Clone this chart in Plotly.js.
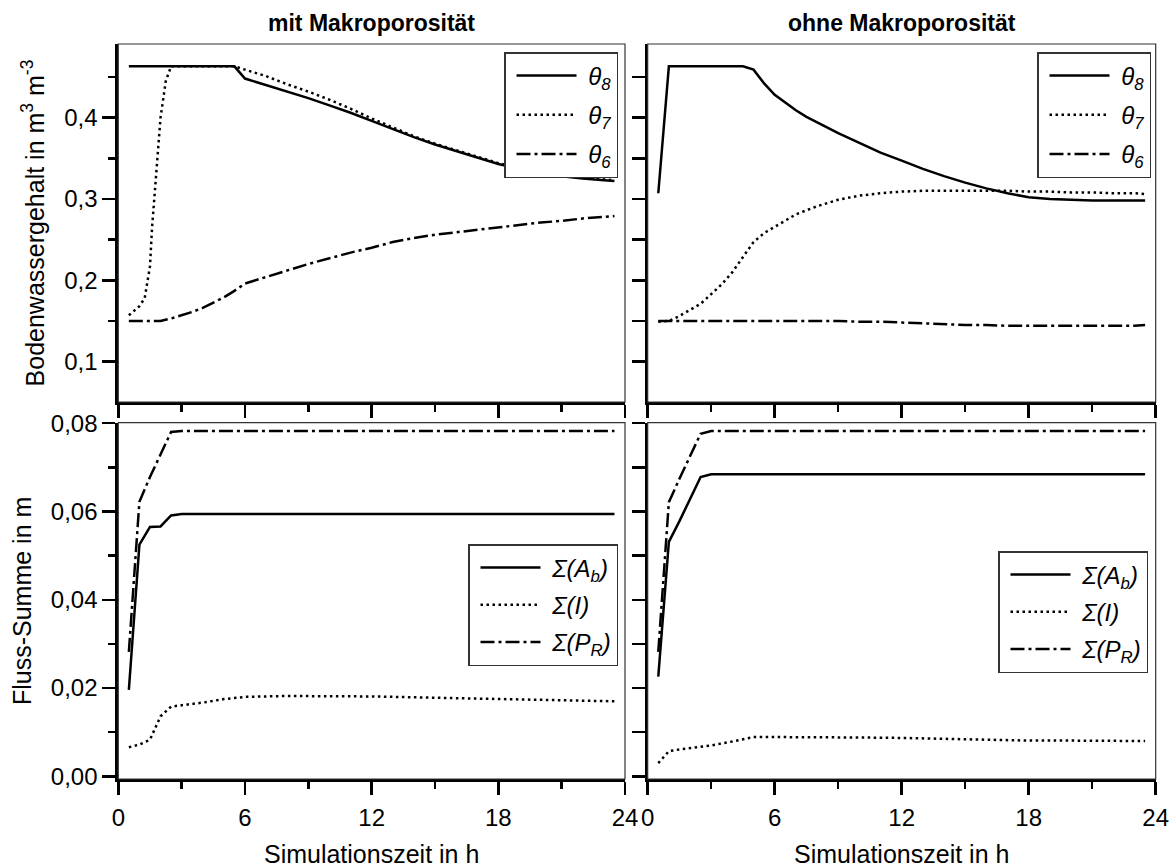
<!DOCTYPE html>
<html>
<head>
<meta charset="utf-8">
<script src="https://cdn.plot.ly/plotly-3.0.1.min.js"></script>
<style>
html,body{margin:0;padding:0;background:#fff;}
#chart{width:1173px;height:868px;}
</style>
</head>
<body>
<div id="chart"></div>
<script>
// ---------- data: mit Makroporosität (top-left) ----------
const timeTheta8Mit = [0.5,1,2,3,4,5,5.5,6,7,8,9,10,11,12,13,14,15,16,17,18,19,20,21,22,23,23.5];
const theta8Mit     = [0.463,0.463,0.463,0.463,0.463,0.463,0.463,0.448,0.440,0.432,0.424,0.415,0.406,0.396,0.386,0.376,0.367,0.359,0.351,0.343,0.337,0.332,0.328,0.325,0.323,0.322];

const timeTheta7Mit = [0.5,1,1.25,1.5,1.6,1.75,2,2.25,2.5,3,4,5,5.5,6,7,8,9,10,11,12,13,14,15,16,17,18,19,20,21,22,23,23.5];
const theta7Mit     = [0.157,0.168,0.178,0.217,0.265,0.320,0.400,0.445,0.463,0.463,0.463,0.463,0.463,0.459,0.451,0.441,0.432,0.422,0.411,0.399,0.388,0.377,0.368,0.360,0.352,0.344,0.338,0.333,0.329,0.326,0.324,0.323];

const timeTheta6Mit = [0.5,1,1.5,2,2.5,3,3.5,4,4.5,5,5.5,6,7,8,9,10,11,12,13,14,15,16,17,18,19,20,21,22,23,23.5];
const theta6Mit     = [0.150,0.150,0.150,0.150,0.153,0.157,0.161,0.166,0.172,0.179,0.187,0.196,0.204,0.212,0.220,0.227,0.234,0.240,0.247,0.252,0.256,0.259,0.262,0.265,0.268,0.271,0.273,0.276,0.278,0.279];

// ---------- data: ohne Makroporosität (top-right) ----------
const timeTheta8Ohne = [0.5,1,2,3,4,4.5,5,5.5,6,6.5,7,7.5,8,9,10,11,12,13,14,15,16,17,18,19,20,21,22,23,23.5];
const theta8Ohne     = [0.307,0.463,0.463,0.463,0.463,0.463,0.459,0.442,0.428,0.418,0.409,0.401,0.394,0.381,0.369,0.357,0.347,0.337,0.328,0.320,0.313,0.307,0.302,0.300,0.299,0.298,0.298,0.298,0.298];

const timeTheta7Ohne = [0.5,1,1.5,2,2.5,3,3.5,4,4.5,5,5.5,6,7,8,9,10,11,12,13,14,15,16,17,18,19,20,21,22,23,23.5];
const theta7Ohne     = [0.149,0.150,0.156,0.163,0.171,0.183,0.195,0.210,0.229,0.247,0.258,0.266,0.281,0.291,0.299,0.304,0.307,0.309,0.310,0.310,0.310,0.310,0.310,0.309,0.309,0.308,0.308,0.307,0.307,0.306];

const timeTheta6Ohne = [0.5,2,4,6,8,9,10,11,12,13,14,15,16,17,18,19,20,21,22,23,23.5];
const theta6Ohne     = [0.150,0.150,0.150,0.150,0.150,0.150,0.149,0.149,0.148,0.147,0.146,0.145,0.145,0.144,0.144,0.144,0.144,0.144,0.144,0.144,0.145];

// ---------- data: Fluss-Summen mit Makroporosität (bottom-left) ----------
const timeAbMit = [0.5,1,1.5,2,2.5,3,6,12,18,23.5];
const sumAbMit  = [0.0196,0.0525,0.0565,0.0566,0.0591,0.0594,0.0594,0.0594,0.0594,0.0594];

const timeIMit = [0.5,1,1.5,2,2.5,3,4,5,6,8,10,12,14,16,18,20,22,23.5];
const sumIMit  = [0.0066,0.0072,0.0083,0.0136,0.0158,0.0161,0.0167,0.0175,0.0180,0.0182,0.0182,0.0181,0.0179,0.0177,0.0175,0.0173,0.0171,0.0170];

const timePMit = [0.5,1,1.5,2,2.5,3,6,12,18,23.5];
const sumPMit  = [0.0282,0.0622,0.0678,0.0731,0.0780,0.0782,0.0782,0.0782,0.0782,0.0782];

// ---------- data: Fluss-Summen ohne Makroporosität (bottom-right) ----------
const timeAbOhne = [0.5,1,1.5,2,2.5,3,6,12,18,23.5];
const sumAbOhne  = [0.0226,0.0531,0.0578,0.0629,0.0678,0.0684,0.0684,0.0684,0.0684,0.0684];

const timeIOhne = [0.5,1,1.5,2,3,4,5,6,8,10,12,14,16,18,20,22,23.5];
const sumIOhne  = [0.0030,0.0057,0.0061,0.0064,0.0070,0.0079,0.0089,0.0089,0.0089,0.0088,0.0087,0.0085,0.0083,0.0081,0.0081,0.0080,0.0080];

const timePOhne = [0.5,1,1.5,2,2.5,3,6,12,18,23.5];
const sumPOhne  = [0.0282,0.0621,0.0674,0.0727,0.0776,0.0782,0.0782,0.0782,0.0782,0.0782];

// ---------- labels ----------
const panelTitles = ['mit Makroporosität', 'ohne Makroporosität'];
const thetaNames = ['θ<sub>8</sub>', 'θ<sub>7</sub>', 'θ<sub>6</sub>'];
const fluxNames = ['Σ(A<sub>b</sub>)', 'Σ(I)', 'Σ(P<sub>R</sub>)'];
const yTitleTop = 'Bodenwassergehalt in m<sup>3</sup> m<sup>-3</sup>';
const yTitleBottom = 'Fluss-Summe in m';
const xTitle = 'Simulationszeit in h';

// ---------- styles ----------
const FONT = 'Liberation Sans, Arial, sans-serif';
const solid = {color: '#000', width: 2.5, dash: 'solid'};
const dotted = {color: '#000', width: 2.5, dash: '2.5px,3.5px'};
const dashdot = {color: '#000', width: 2.5, dash: '14px,4px,3px,4px'};
const GAP = '\u00A0';

let groupId = 0;
function tr(x, y, line, name, xa, ya, leg) {
  groupId += 1;
  return {x: x, y: y, type: 'scatter', mode: 'lines', line: line,
          name: GAP + name, xaxis: xa, yaxis: ya, legend: leg,
          legendgroup: 'g' + groupId, hoverinfo: 'skip'};
}

const data = [
  tr(timeTheta8Mit, theta8Mit, solid, thetaNames[0], 'x', 'y', 'legend'),
  tr(timeTheta7Mit, theta7Mit, dotted, thetaNames[1], 'x', 'y', 'legend'),
  tr(timeTheta6Mit, theta6Mit, dashdot, thetaNames[2], 'x', 'y', 'legend'),
  tr(timeTheta8Ohne, theta8Ohne, solid, thetaNames[0], 'x2', 'y2', 'legend2'),
  tr(timeTheta7Ohne, theta7Ohne, dotted, thetaNames[1], 'x2', 'y2', 'legend2'),
  tr(timeTheta6Ohne, theta6Ohne, dashdot, thetaNames[2], 'x2', 'y2', 'legend2'),
  tr(timeAbMit, sumAbMit, solid, fluxNames[0], 'x3', 'y3', 'legend3'),
  tr(timeIMit, sumIMit, dotted, fluxNames[1], 'x3', 'y3', 'legend3'),
  tr(timePMit, sumPMit, dashdot, fluxNames[2], 'x3', 'y3', 'legend3'),
  tr(timeAbOhne, sumAbOhne, solid, fluxNames[0], 'x4', 'y4', 'legend4'),
  tr(timeIOhne, sumIOhne, dotted, fluxNames[1], 'x4', 'y4', 'legend4'),
  tr(timePOhne, sumPOhne, dashdot, fluxNames[2], 'x4', 'y4', 'legend4')
];

const W = 1173, H = 868;
const px = v => v / W;
const py = v => 1 - v / H;

const leftDom = [px(118.3), px(625)];
const rightDom = [px(647.7), px(1155.7)];
const topDom = [py(402), py(44)];
const botDom = [py(779), py(422.7)];

const tickFont = {family: FONT, size: 24, color: '#000'};

function xAx(dom, anchor, labels) {
  const a = {
    domain: dom, anchor: anchor, range: [0, 24], tickmode: 'linear', tick0: 0, dtick: 6,
    ticks: 'outside', ticklen: 13, tickwidth: 2.5, tickcolor: '#000',
    minor: {ticks: 'outside', ticklen: 7, tickwidth: 2.5, tickcolor: '#000', dtick: 3, tick0: 0, showgrid: false},
    showline: true, linewidth: 3, linecolor: '#000', showgrid: false, zeroline: false,
    showticklabels: labels, tickfont: tickFont, fixedrange: true
  };
  if (labels) {
    a.title = {text: xTitle, font: {family: FONT, size: 25, color: '#000'}, standoff: 17};
    a.ticklabelstandoff = 2;
  }
  return a;
}

function yAx(dom, anchor, range, dtick, fmt, labels, title, minorD) {
  const a = {
    domain: dom, anchor: anchor, range: range, tickmode: 'linear', tick0: 0, dtick: dtick,
    ticks: 'outside', ticklen: 13, tickwidth: 2.5, tickcolor: '#000',
    showline: true, linewidth: 3, linecolor: '#000', showgrid: false, zeroline: false,
    showticklabels: labels, tickformat: fmt, tickfont: tickFont, fixedrange: true
  };
  if (minorD) a.minor = {ticks: 'outside', ticklen: 7, tickwidth: 2.5, tickcolor: '#000', dtick: minorD, tick0: 0, showgrid: false};
  if (title) a.title = {text: title, font: {family: FONT, size: 25, color: '#000'}, standoff: 13};
  return a;
}

function legendBox(xRight, yTop, size, gap) {
  return {x: px(xRight), xanchor: 'right', y: py(yTop), yanchor: 'top',
          bgcolor: '#fff', bordercolor: '#333', borderwidth: 1.5,
          font: {family: FONT, size: size, color: '#000', style: 'italic'},
          itemwidth: 60, tracegroupgap: gap, indentation: 6,
          itemclick: false, itemdoubleclick: false};
}

function frame(xr, yr) {
  return {type: 'rect', xref: xr + ' domain', yref: yr + ' domain', x0: 0, x1: 1, y0: 0, y1: 1,
          line: {color: '#333', width: 1.2}, layer: 'above'};
}

const titleFont = {family: FONT, size: 23, color: '#000', weight: 'bold'};

const layout = {
  width: W, height: H,
  margin: {l: 0, r: 0, t: 0, b: 0},
  paper_bgcolor: '#fff', plot_bgcolor: '#fff',
  separators: ',.',
  font: {family: FONT, color: '#000'},
  showlegend: true,
  xaxis: xAx(leftDom, 'y', false),
  yaxis: yAx(topDom, 'x', [0.0503, 0.4905], 0.1, '.1f', true, yTitleTop, 0.05),
  xaxis2: xAx(rightDom, 'y2', false),
  yaxis2: yAx(topDom, 'x2', [0.0503, 0.4905], 0.05, '.2f', false, null, null),
  xaxis3: xAx(leftDom, 'y3', true),
  yaxis3: yAx(botDom, 'x3', [-0.0006, 0.0801], 0.02, '.2f', true, yTitleBottom, 0.01),
  xaxis4: xAx(rightDom, 'y4', true),
  yaxis4: yAx(botDom, 'x4', [-0.0006, 0.0801], 0.01, '.2f', false, null, null),
  legend: legendBox(618, 52, 24, 5),
  legend2: legendBox(1151, 52, 24, 5),
  legend3: legendBox(618, 544, 24, 3),
  legend4: legendBox(1148, 551, 24, 3),
  shapes: [frame('x', 'y'), frame('x2', 'y2'), frame('x3', 'y3'), frame('x4', 'y4')],
  annotations: [
    {text: panelTitles[0], xref: 'paper', yref: 'paper', x: (leftDom[0] + leftDom[1]) / 2, y: py(23),
     xanchor: 'center', yanchor: 'middle', showarrow: false, font: titleFont},
    {text: panelTitles[1], xref: 'paper', yref: 'paper', x: (rightDom[0] + rightDom[1]) / 2, y: py(23),
     xanchor: 'center', yanchor: 'middle', showarrow: false, font: titleFont}
  ]
};

Plotly.newPlot('chart', data, layout, {displayModeBar: false, staticPlot: true});
</script>
</body>
</html>
